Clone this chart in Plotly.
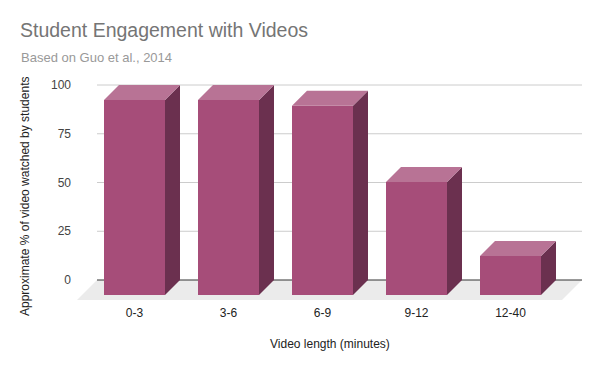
import plotly.graph_objects as go

# ---- data ----
categories = ["0-3", "3-6", "6-9", "9-12", "12-40"]
values = [100, 100, 97, 58, 20]
y_ticks = [0, 25, 50, 75, 100]

title_text = "Student Engagement with Videos"
subtitle_text = "Based on Guo et al., 2014"
x_title = "Video length (minutes)"
y_title = "Approximate % of video watched by students"

# ---- style / geometry (pixels, page coordinates) ----
OFF = 8  # page body margin in the browser
W, H = 600, 371
PLOT_L, PLOT_R, PLOT_T, PLOT_B = 77, 582, 80, 300  # page pixels
ML = PLOT_L - OFF
MT = PLOT_T - OFF
MR = W - (PLOT_R - OFF)
MB = H - (PLOT_B - OFF)
PX_PER_CAT = 94.0
PX_PER_VAL = 1.95
BAR_PX = 61.0
DEPTH_PX = 15.0
FLOOR_PX = 20.0
FIRST_CENTER_PX = 134.5
ZERO_PX = 280.0

FRONT = "#a64d79"
TOP = "#b87395"
SIDE = "#6b304f"
FLOOR = "#ebebeb"
GRID = "#cccccc"
FONT = "Arial, Liberation Sans, sans-serif"

plot_w = PLOT_R - PLOT_L
plot_h = PLOT_B - PLOT_T
x_lo = (PLOT_L - FIRST_CENTER_PX) / PX_PER_CAT
x_hi = x_lo + plot_w / PX_PER_CAT
y_hi = (ZERO_PX - PLOT_T) / PX_PER_VAL
y_lo = y_hi - plot_h / PX_PER_VAL

dx = DEPTH_PX / PX_PER_CAT
dy = DEPTH_PX / PX_PER_VAL
half = BAR_PX / PX_PER_CAT / 2
fdx = FLOOR_PX / PX_PER_CAT
fdy = FLOOR_PX / PX_PER_VAL
back_left = x_lo + fdx
back_right = x_hi


def px_x(p):
    return (p - PLOT_L) / plot_w


def px_y(p):
    return (PLOT_B - p) / plot_h


xs = list(range(len(categories)))

fig = go.Figure()

# front faces
fig.add_trace(go.Bar(
    x=xs, y=values, base=[-dy] * len(values), width=2 * half,
    marker=dict(color=FRONT, line=dict(width=0)),
    hoverinfo="skip", showlegend=False,
))

# side and top faces
for i, v in zip(xs, values):
    r = i + half
    l = i - half
    fig.add_trace(go.Scatter(
        x=[r, r + dx, r + dx, r, r], y=[-dy, 0, v, v - dy, -dy],
        mode="lines", fill="toself", fillcolor=SIDE,
        line=dict(width=0, color=SIDE), hoverinfo="skip", showlegend=False,
    ))
    fig.add_trace(go.Scatter(
        x=[l, r, r + dx, l + dx, l], y=[v - dy, v - dy, v, v, v - dy],
        mode="lines", fill="toself", fillcolor=TOP,
        line=dict(width=0, color=TOP), hoverinfo="skip", showlegend=False,
    ))

shapes = []
# floor
shapes.append(dict(
    type="path", xref="x", yref="y", layer="below",
    path=f"M {back_left},0 L {back_right},0 L {back_right - fdx},{-fdy} L {back_left - fdx},{-fdy} Z",
    fillcolor=FLOOR, line=dict(width=0),
))
# gridlines
for t in y_ticks:
    if t == 0:
        continue
    shapes.append(dict(type="line", xref="x", yref="y", layer="below",
                       x0=back_left, x1=back_right, y0=t, y1=t,
                       line=dict(color=GRID, width=1)))
# zero line
shapes.append(dict(type="line", xref="x", yref="y", layer="below",
                   x0=back_left, x1=back_right, y0=0, y1=0,
                   line=dict(color="#333333", width=1)))

annotations = [
    dict(text=subtitle_text, xref="paper", yref="paper",
         x=px_x(19), y=px_y(58),
         xanchor="left", yanchor="middle", showarrow=False,
         font=dict(family=FONT, size=13, color="#999999")),
    dict(text=y_title, xref="paper", yref="paper",
         x=px_x(25), y=px_y(197), textangle=-90,
         xanchor="center", yanchor="middle", showarrow=False,
         font=dict(family=FONT, size=12, color="#222222")),
    dict(text=x_title, xref="paper", yref="paper",
         x=px_x(330), y=px_y(344),
         xanchor="center", yanchor="middle", showarrow=False,
         font=dict(family=FONT, size=12, color="#222222")),
]

fig.update_layout(
    width=W, height=H,
    margin=dict(l=ML, r=MR, t=MT, b=MB, pad=0),
    paper_bgcolor="white", plot_bgcolor="white",
    title=dict(text=title_text, x=(20 - OFF) / W, xref="container", xanchor="left",
               y=1 - (30 - OFF) / H, yref="container", yanchor="middle",
               font=dict(family=FONT, size=19.5, color="#757575")),
    font=dict(family=FONT, size=12, color="#444444"),
    shapes=shapes, annotations=annotations,
    showlegend=False,
    xaxis=dict(range=[x_lo, x_hi], tickvals=xs, ticktext=categories,
               showgrid=False, zeroline=False, showline=False, ticks="",
               ticklabelstandoff=4,
               fixedrange=True, tickfont=dict(size=12, color="#222222")),
    yaxis=dict(range=[y_lo, y_hi], tickvals=y_ticks, ticktext=[str(t) for t in y_ticks],
               showgrid=False, zeroline=False, showline=False, ticks="",
               ticklabelstandoff=5,
               fixedrange=True, tickfont=dict(size=12, color="#444444")),
)

fig.write_html("out.html")
